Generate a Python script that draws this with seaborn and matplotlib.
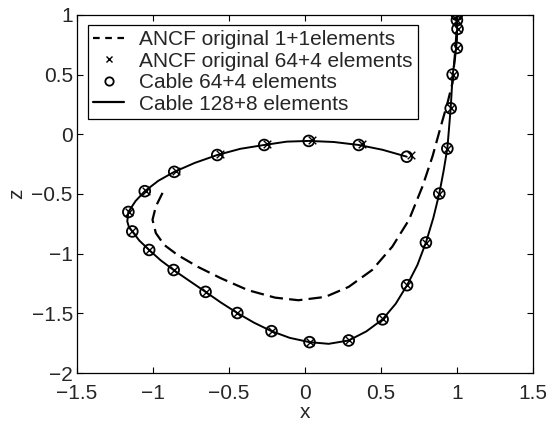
import matplotlib
matplotlib.use("Agg")
import matplotlib.pyplot as plt
from matplotlib.lines import Line2D
import seaborn as sns

# ANCF original, 1+1 elements (dashed)
ancf1_x = [1.0, 0.998, 0.990, 0.972, 0.939, 0.895, 0.840, 0.774, 0.685, 0.575, 0.442,
           0.288, 0.134, -0.043, -0.197, -0.374, -0.551, -0.705, -0.838, -0.926,
           -0.981, -1.003, -0.981, -0.937]
ancf1_z = [1.0, 0.860, 0.716, 0.436, 0.267, 0.070, -0.183, -0.435, -0.716, -0.941,
           -1.137, -1.278, -1.362, -1.390, -1.368, -1.306, -1.207, -1.110, -1.011,
           -0.927, -0.828, -0.716, -0.604, -0.491]

# Cable 64+4 elements (circles)
cable64_x = [1.0, 1.0, 1.004, 1.0, 0.972, 0.959, 0.937, 0.884, 0.796, 0.672, 0.511,
             0.288, 0.030, -0.220, -0.445, -0.654, -0.864, -1.025, -1.136, -1.162,
             -1.054, -0.860, -0.577, -0.268, 0.025, 0.354, 0.670]
cable64_z = [1.0, 0.955, 0.882, 0.723, 0.500, 0.217, -0.120, -0.497, -0.907, -1.264,
             -1.550, -1.727, -1.741, -1.649, -1.497, -1.320, -1.137, -0.969, -0.814,
             -0.651, -0.477, -0.315, -0.174, -0.090, -0.056, -0.090, -0.188]

# ANCF original, 64+4 elements (crosses)
ancf64_x = [1.0, 1.0, 1.004, 1.0, 0.972, 0.959, 0.937, 0.884, 0.796, 0.672, 0.511,
            0.288, 0.030, -0.220, -0.445, -0.654, -0.864, -1.025, -1.136, -1.160,
            -1.048, -0.848, -0.560, -0.248, 0.048, 0.378, 0.695]
ancf64_z = [1.0, 0.955, 0.882, 0.723, 0.500, 0.217, -0.120, -0.497, -0.907, -1.264,
            -1.550, -1.727, -1.741, -1.649, -1.497, -1.320, -1.137, -0.969, -0.814,
            -0.649, -0.472, -0.307, -0.166, -0.082, -0.046, -0.078, -0.172]

# Cable 128+8 elements (solid)
cable128_x = [1.0, 1.002, 1.0, 0.988, 0.972, 0.959, 0.937, 0.912, 0.884, 0.845, 0.796,
              0.740, 0.672, 0.597, 0.511, 0.405, 0.288, 0.156, 0.030, -0.100, -0.220,
              -0.335, -0.445, -0.552, -0.654, -0.760, -0.864, -0.950, -1.025, -1.090,
              -1.136, -1.160, -1.169, -1.162, -1.115, -1.054, -0.965, -0.860, -0.725,
              -0.577, -0.425, -0.268, -0.120, 0.025, 0.190, 0.354, 0.510, 0.670]
cable128_z = [1.0, 0.920, 0.790, 0.640, 0.500, 0.217, -0.120, -0.310, -0.497, -0.700,
              -0.907, -1.095, -1.264, -1.420, -1.550, -1.650, -1.727, -1.755, -1.741,
              -1.705, -1.649, -1.578, -1.497, -1.410, -1.320, -1.228, -1.137, -1.055,
              -0.969, -0.890, -0.814, -0.770, -0.730, -0.651, -0.560, -0.477, -0.390,
              -0.315, -0.240, -0.174, -0.122, -0.090, -0.062, -0.056, -0.065, -0.090,
              -0.130, -0.188]

x_ticks = [-1.5, -1, -0.5, 0, 0.5, 1, 1.5]
z_ticks = [-2, -1.5, -1, -0.5, 0, 0.5, 1]

sns.set_style("ticks")
plt.rcParams["font.family"] = ["Liberation Sans", "DejaVu Sans"]
plt.rcParams["xtick.direction"] = "in"
plt.rcParams["ytick.direction"] = "in"

fig = plt.figure(figsize=(5.46, 4.23), dpi=100)
ax = fig.add_axes([0.141, 0.118, 0.835, 0.847])

dash = (0, (6, 2.8))
sns.lineplot(x=ancf1_x, y=ancf1_z, sort=False, estimator=None, ax=ax,
             color="black", linewidth=1.6, linestyle=dash)
sns.lineplot(x=cable128_x, y=cable128_z, sort=False, estimator=None, ax=ax,
             color="black", linewidth=1.4)
sns.scatterplot(x=ancf64_x, y=ancf64_z, ax=ax, marker="x", s=30,
                color="black", linewidth=1.0)
sns.scatterplot(x=cable64_x, y=cable64_z, ax=ax, marker="o", s=60,
                facecolor="none", edgecolor="black", linewidth=1.3)

def fmt(v):
    s = f"{v:g}"
    return s.replace("-", "\u2212")

ax.set_xlim(-1.5, 1.5)
ax.set_ylim(-2, 1)
ax.set_xticks(x_ticks)
ax.set_xticklabels([fmt(v) for v in x_ticks])
ax.set_yticks(z_ticks)
ax.set_yticklabels([fmt(v) for v in z_ticks])
ax.tick_params(axis="both", which="both", top=True, right=True, length=4,
               width=0.8, labelsize=15, color="black")
ax.tick_params(axis="x", pad=7.5)
ax.tick_params(axis="y", pad=3)
for s in ax.spines.values():
    s.set_linewidth(0.9)
    s.set_color("black")
ax.set_xlabel("x", fontsize=15, labelpad=0)
ax.set_ylabel("z", fontsize=15, labelpad=4)

handles = [
    Line2D([], [], color="black", linewidth=1.6, linestyle=(0, (3, 2.5))),
    Line2D([], [], color="black", linestyle="none", marker="x", markersize=5),
    Line2D([], [], color="black", linestyle="none", marker="o", markersize=6,
           markerfacecolor="none", markeredgewidth=1.3),
    Line2D([], [], color="black", linewidth=1.6),
]
labels = ["ANCF original 1+1elements", "ANCF original 64+4 elements",
          "Cable 64+4 elements", "Cable 128+8 elements"]
leg = ax.legend(handles, labels, loc="upper left", bbox_to_anchor=(0.024, 0.972),
                fontsize=15, frameon=True, fancybox=False, framealpha=1,
                edgecolor="black", handlelength=1.5, handletextpad=0.7,
                labelspacing=0.12, borderpad=0.25, borderaxespad=0)
leg.get_frame().set_linewidth(0.9)

fig.savefig("out.png", dpi=100)
